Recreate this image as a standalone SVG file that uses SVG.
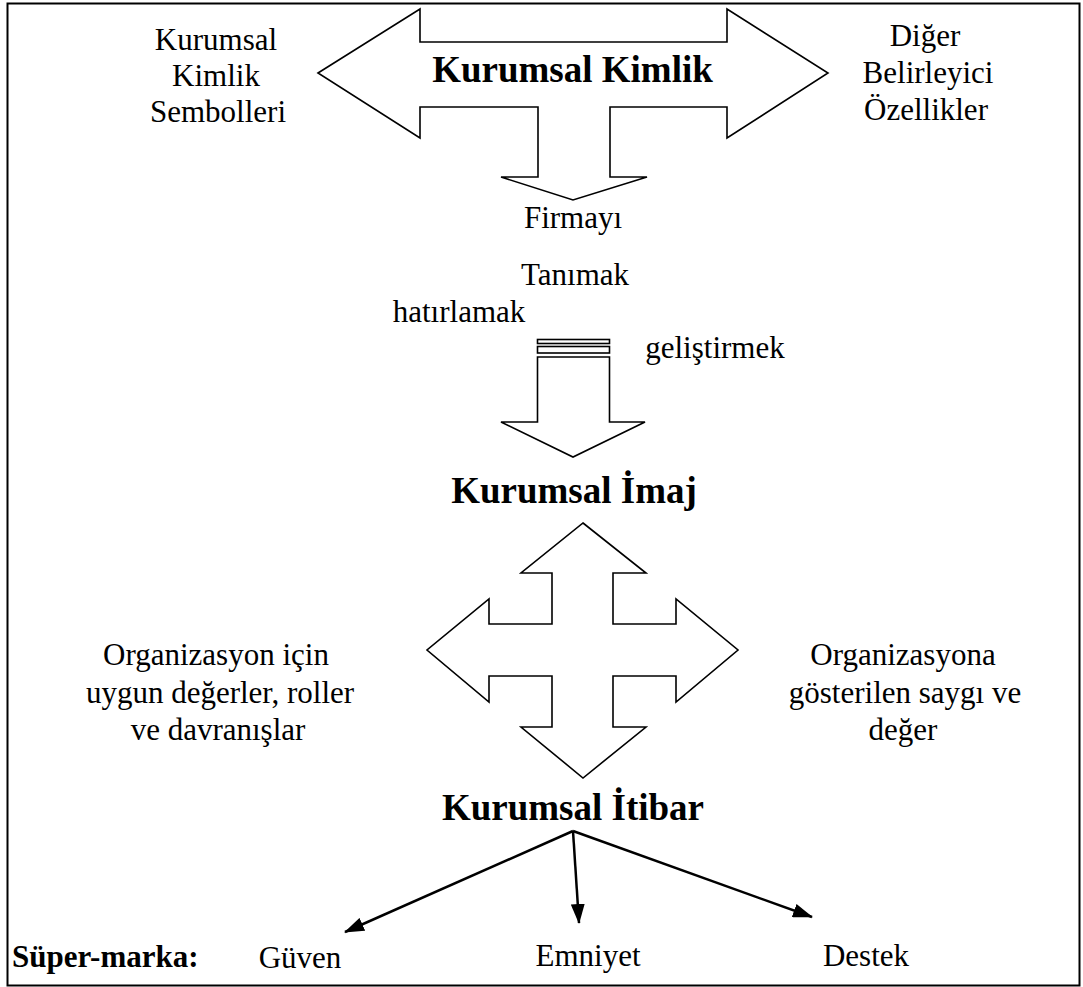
<svg xmlns="http://www.w3.org/2000/svg" width="1083" height="987" viewBox="0 0 1083 987">
  <style>
    .shape { fill: #ffffff; stroke: #000000; stroke-width: 1.6; stroke-linejoin: miter; }
    .t { font-family: "Liberation Serif", "Times New Roman", serif; font-size: 31px; fill: #000000; text-anchor: middle; }
    .tb { font-family: "Liberation Serif", "Times New Roman", serif; font-size: 37px; font-weight: bold; fill: #000000; text-anchor: middle; }
    .lbl { font-family: "Liberation Serif", "Times New Roman", serif; font-size: 31px; font-weight: bold; fill: #000000; text-anchor: start; }
    .edge { stroke: #000000; stroke-width: 2.5; fill: none; }
  </style>
  <defs>
    <marker id="tri" viewBox="0 0 20 14" refX="19" refY="7" markerWidth="20" markerHeight="14" orient="auto" markerUnits="userSpaceOnUse">
      <path d="M0,0 L20,7 L0,14 Z" fill="#000000"/>
    </marker>
  </defs>

  <rect x="0" y="0" width="1083" height="987" fill="#ffffff"/>
  <!-- frame -->
  <rect x="7.5" y="3.5" width="1072" height="982" fill="none" stroke="#000000" stroke-width="2"/>

  <!-- corporate identity: left-right double arrow with downward branch -->
  <g id="kimlik">
    <path class="shape" d="M318,73 L420,9 L420,42 L727,42 L727,9 L828,73 L727,138 L727,107 L610,107 L610,177 L647,177 L573,200 L501,177 L538,177 L538,107 L420,107 L420,138 Z"/>
    <text class="tb" x="572.5" y="82">Kurumsal Kimlik</text>
  </g>

  <g id="semboller">
    <text class="t" x="216" y="50">Kurumsal</text>
    <text class="t" x="216" y="86">Kimlik</text>
    <text class="t" x="218" y="122">Sembolleri</text>
  </g>

  <g id="ozellikler">
    <text class="t" x="925" y="46">Diğer</text>
    <text class="t" x="928" y="83">Belirleyici</text>
    <text class="t" x="926" y="120">Özellikler</text>
  </g>

  <g id="firmayi">
    <text class="t" x="573" y="228">Firmayı</text>
  </g>
  <g id="tanimak">
    <text class="t" x="575" y="285">Tanımak</text>
  </g>
  <g id="hatirlamak">
    <text class="t" x="459" y="322">hatırlamak</text>
  </g>
  <g id="gelistirmek">
    <text class="t" x="715" y="358">geliştirmek</text>
  </g>

  <!-- striped down arrow toward the image -->
  <g id="ok-imaj">
    <rect class="shape" x="537.5" y="339.5" width="72" height="4"/>
    <rect class="shape" x="537.5" y="346.5" width="72" height="6.5"/>
    <path class="shape" d="M537.5,357 L609.5,357 L609.5,422 L645,422 L573,457 L501,422 L537.5,422 Z"/>
  </g>

  <g id="imaj">
    <text class="tb" x="574" y="503">Kurumsal İmaj</text>
  </g>

  <!-- four-way arrow -->
  <g id="dort-yon">
    <path class="shape" d="M583,523 L646,573 L613,573 L613,624 L676,624 L676,599 L738,650 L676,702 L676,676 L613,676 L613,727 L646,727 L583,778 L521,727 L552,727 L552,676 L489,676 L489,702 L427,650 L489,599 L489,624 L552,624 L552,573 L521,573 Z"/>
  </g>

  <g id="degerler">
    <text class="t" x="216" y="665">Organizasyon için</text>
    <text class="t" x="220" y="703">uygun değerler, roller</text>
    <text class="t" x="218" y="740">ve davranışlar</text>
  </g>

  <g id="saygi">
    <text class="t" x="903" y="665">Organizasyona</text>
    <text class="t" x="905" y="703">gösterilen saygı ve</text>
    <text class="t" x="903" y="740">değer</text>
  </g>

  <g id="itibar">
    <text class="tb" x="573" y="820">Kurumsal İtibar</text>
  </g>

  <g id="connectors">
    <line class="edge" x1="573" y1="831" x2="345" y2="932" marker-end="url(#tri)"/>
    <line class="edge" x1="573" y1="831" x2="579" y2="923" marker-end="url(#tri)"/>
    <line class="edge" x1="573" y1="831" x2="812" y2="917" marker-end="url(#tri)"/>
  </g>

  <g id="supermarka">
    <text class="lbl" x="12" y="967">Süper-marka:</text>
  </g>
  <g id="guven">
    <text class="t" x="300" y="968">Güven</text>
  </g>
  <g id="emniyet">
    <text class="t" x="588" y="966">Emniyet</text>
  </g>
  <g id="destek">
    <text class="t" x="866" y="966">Destek</text>
  </g>
</svg>
